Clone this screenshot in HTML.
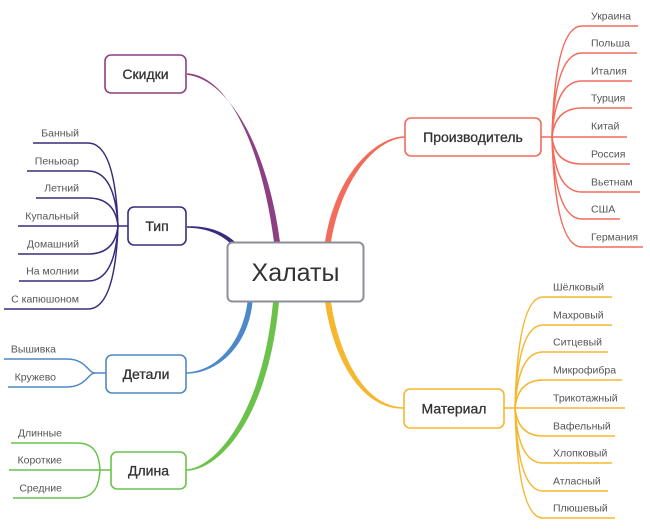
<!DOCTYPE html>
<html><head><meta charset="utf-8"><style>
html,body{margin:0;padding:0;background:#fff;}
svg{display:block;}
.b{font-family:"Liberation Sans","Noto Sans CJK SC",sans-serif;font-size:14px;fill:#333;stroke:#333;stroke-width:0.3px;text-anchor:middle;}
.c{font-family:"Liberation Sans","Noto Sans CJK SC",sans-serif;font-size:10.5px;fill:#555;}
.r{text-anchor:end;}
</style></head><body>
<svg width="650" height="530" viewBox="0 0 650 530" xmlns="http://www.w3.org/2000/svg">
<rect width="650" height="530" fill="#fff"/>

<!-- main connectors (tapered) -->
<path d="M187,73.3 C230,76 262,150 274,242 L280,242 C268,150 230,80 187,74.8 Z" fill="#8e3f84"/>
<path d="M187,226.3 C205,226 221,229.5 234.5,241.5 L231.5,244.5 C220,233 205,228 187,227.7 Z" fill="#3a2c7c"/>
<path d="M405,136.3 C380,136 337,168 325,242 L331,242 C343,172 380,138 405,137.7 Z" fill="#f26b5b"/>
<path d="M325,302 C332,352 358,409.7 404,408.7 L404,407.3 C362,407 338,350 331,302 Z" fill="#f5b730"/>
<path d="M186,372.3 C215,372 242,344 247.5,302 L252.5,302 C248,348 216,374 186,373.7 Z" fill="#4d88c9"/>
<path d="M186,469.3 C213,469 262,418 273,302 L279,302 C268,422 217,471 186,470.7 Z" fill="#6ac24b"/>

<!-- Тип children -->
<g fill="none" stroke="#3a2c7c" stroke-width="1.5">
<path d="M118,226 H128"/>
<path d="M118,226 Q115,143 88,143 H33"/>
<path d="M118,226 Q115,171 88,171 H27"/>
<path d="M118,226 Q115,198 88,198 H36"/>
<path d="M118,226 H18"/>
<path d="M118,226 Q115,254 88,254 H18"/>
<path d="M118,226 Q115,281 88,281 H19"/>
<path d="M118,226 Q115,309 88,309 H4"/>
</g>
<text class="c r" x="79" y="136.5">Банный</text>
<text class="c r" x="79" y="164.5">Пеньюар</text>
<text class="c r" x="79" y="191.5">Летний</text>
<text class="c r" x="79" y="219.5">Купальный</text>
<text class="c r" x="79" y="247.5">Домашний</text>
<text class="c r" x="79" y="274.5">На молнии</text>
<text class="c r" x="79" y="302.5">С капюшоном</text>

<!-- Детали children -->
<g fill="none" stroke="#4d88c9" stroke-width="1.5">
<path d="M95,373 H106"/>
<path d="M95,373 C88,373 86,359 67,359 H4"/>
<path d="M95,373 C88,373 86,387 67,387 H8"/>
</g>
<text class="c r" x="56" y="352.5">Вышивка</text>
<text class="c r" x="56" y="380.5">Кружево</text>

<!-- Длина children -->
<g fill="none" stroke="#6ac24b" stroke-width="1.5">
<path d="M100,470 H111"/>
<path d="M100,470 C99,455 95,443 77,443 H11"/>
<path d="M100,470 H9"/>
<path d="M100,470 C99,485 95,498 77,498 H13"/>
</g>
<text class="c r" x="62" y="436.5">Длинные</text>
<text class="c r" x="62" y="463.5">Короткие</text>
<text class="c r" x="62" y="491.5">Средние</text>

<!-- Производитель children -->
<g fill="none" stroke="#f26b5b" stroke-width="1.5">
<path d="M541,137 H552"/>
<path d="M552,137 Q555,26 582,26 H638"/>
<path d="M552,137 Q555,53 582,53 H637"/>
<path d="M552,137 Q555,81 582,81 H632"/>
<path d="M552,137 Q555,108 582,108 H632"/>
<path d="M552,137 H627"/>
<path d="M552,137 Q555,164 582,164 H630"/>
<path d="M552,137 Q555,192 582,192 H640"/>
<path d="M552,137 Q555,219 582,219 H620"/>
<path d="M552,137 Q555,247 582,247 H643"/>
</g>
<text class="c" x="591" y="19.5">Украина</text>
<text class="c" x="591" y="46.5">Польша</text>
<text class="c" x="591" y="74.5">Италия</text>
<text class="c" x="591" y="101.5">Турция</text>
<text class="c" x="591" y="129.5">Китай</text>
<text class="c" x="591" y="157.5">Россия</text>
<text class="c" x="591" y="185.5">Вьетнам</text>
<text class="c" x="591" y="212.5">США</text>
<text class="c" x="591" y="240.5">Германия</text>

<!-- Материал children -->
<g fill="none" stroke="#f5b730" stroke-width="1.5">
<path d="M504,408 H515"/>
<path d="M515,408 Q518,297 543,297 H612"/>
<path d="M515,408 Q518,325 543,325 H612"/>
<path d="M515,408 Q518,352 543,352 H608"/>
<path d="M515,408 Q518,380 543,380 H622"/>
<path d="M515,408 H625"/>
<path d="M515,408 Q518,436 543,436 H615"/>
<path d="M515,408 Q518,463 543,463 H612"/>
<path d="M515,408 Q518,491 543,491 H608"/>
<path d="M515,408 Q518,518 543,518 H615"/>
</g>
<text class="c" x="553" y="290.5">Шёлковый</text>
<text class="c" x="553" y="318.5">Махровый</text>
<text class="c" x="553" y="345.5">Ситцевый</text>
<text class="c" x="553" y="373.5">Микрофибра</text>
<text class="c" x="553" y="401.5">Трикотажный</text>
<text class="c" x="553" y="429.5">Вафельный</text>
<text class="c" x="553" y="456.5">Хлопковый</text>
<text class="c" x="553" y="484.5">Атласный</text>
<text class="c" x="553" y="511.5">Плюшевый</text>

<!-- branch boxes -->
<g fill="#fff" stroke-width="1.6">
<rect x="105" y="55" width="81" height="38" rx="6" stroke="#8e3f84"/>
<rect x="128" y="207" width="58" height="38" rx="6" stroke="#3a2c7c"/>
<rect x="106" y="355" width="80" height="38" rx="6" stroke="#4d88c9"/>
<rect x="111" y="452" width="75" height="37" rx="6" stroke="#6ac24b"/>
<rect x="405" y="118" width="136" height="38" rx="6" stroke="#f26b5b"/>
<rect x="404" y="389" width="100" height="39" rx="6" stroke="#f5b730"/>
</g>
<text class="b" x="145.5" y="79">Скидки</text>
<text class="b" x="157" y="231">Тип</text>
<text class="b" x="146" y="379">Детали</text>
<text class="b" x="148.5" y="475.5">Длина</text>
<text class="b" x="473" y="142">Производитель</text>
<text class="b" x="454" y="413.5">Материал</text>

<!-- center -->
<rect x="227.5" y="242.5" width="136" height="59" rx="5" fill="#fff" stroke="#8c8f99" stroke-width="2"/>
<text x="295.5" y="281" text-anchor="middle" font-family="Liberation Sans, sans-serif" font-size="25" fill="#333">Халаты</text>
</svg>
</body></html>
